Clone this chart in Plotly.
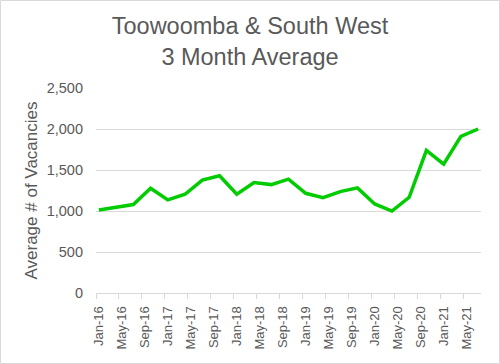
import plotly.graph_objects as go

# Quarterly data points (month index from Jan-16)
quarters = ["Jan-16", "Apr-16", "Jul-16", "Oct-16", "Jan-17", "Apr-17", "Jul-17", "Oct-17",
            "Jan-18", "Apr-18", "Jul-18", "Oct-18", "Jan-19", "Apr-19", "Jul-19", "Oct-19",
            "Jan-20", "Apr-20", "Jul-20", "Oct-20", "Jan-21", "Apr-21", "Jul-21"]
month_index = [0, 3, 6, 9, 12, 15, 18, 21, 24, 27, 30, 33, 36, 39, 42, 45, 48, 51, 54, 57, 60, 63, 66]
vacancies = [1012, 1045, 1078, 1278, 1135, 1204, 1376, 1429, 1204, 1347, 1322, 1388,
             1216, 1163, 1237, 1282, 1086, 1000, 1167, 1739, 1571, 1910, 2000]

tick_months = [0, 4, 8, 12, 16, 20, 24, 28, 32, 36, 40, 44, 48, 52, 56, 60, 64]
tick_labels = ["Jan-16", "May-16", "Sep-16", "Jan-17", "May-17", "Sep-17", "Jan-18", "May-18",
               "Sep-18", "Jan-19", "May-19", "Sep-19", "Jan-20", "May-20", "Sep-20", "Jan-21", "May-21"]

FONT = "Liberation Sans, Arial, sans-serif"
GREY = "#595959"
GRID = "#d9d9d9"

W, H = 500, 364
ml, mr, mt, mb = 96, 19, 88, 71

fig = go.Figure()
fig.add_trace(go.Scatter(
    x=month_index, y=vacancies, mode="lines",
    line=dict(color="#00CC00", width=3.5),
    hoverinfo="skip", showlegend=False,
))

fig.update_layout(
    width=W, height=H,
    margin=dict(l=ml, r=mr, t=mt, b=mb, pad=0, autoexpand=False),
    paper_bgcolor="white", plot_bgcolor="white",
    font=dict(family=FONT, color=GREY),
    title=dict(
        text="Toowoomba & South West<br>3 Month Average",
        font=dict(size=23.5, color=GREY, family=FONT),
        x=0.5, xref="container", xanchor="center",
        y=1 - 34 / H, yref="container", yanchor="middle",
    ),
    xaxis=dict(
        range=[-0.5, 66.5],
        tickmode="array", tickvals=tick_months, ticktext=tick_labels,
        tickangle=-90,
        ticks="outside", ticklen=7, tickcolor="rgba(0,0,0,0)",
        tickfont=dict(size=13, color=GREY, family=FONT),
        showgrid=False, zeroline=False,
        showline=True, linecolor=GRID, linewidth=1,
        minor=dict(ticks="outside", tick0=-0.5, dtick=4, ticklen=5,
                   tickcolor=GRID, tickwidth=1, showgrid=False),
        automargin=False,
        fixedrange=True,
    ),
    yaxis=dict(
        range=[0, 2500], dtick=500, tick0=0,
        tickformat=",",
        tickfont=dict(size=14.5, color=GREY, family=FONT),
        ticklabelstandoff=12,
        showgrid=True, gridcolor=GRID, gridwidth=1,
        zeroline=False, showline=False,
        title=dict(text="Average # of Vacancies", font=dict(size=17, color=GREY, family=FONT),
                   standoff=4),
        automargin=False,
        fixedrange=True,
    ),
)

# chart-area border
pw = W - ml - mr
ph = H - mt - mb
fig.add_shape(type="rect", xref="paper", yref="paper",
              x0=(0.5 - ml) / pw, x1=(W - 0.5 - ml) / pw,
              y0=-(mb - 0.5) / ph, y1=1 + (mt - 0.5) / ph,
              line=dict(color=GRID, width=1), fillcolor="rgba(0,0,0,0)", layer="above")

fig.write_html("out.html", config={"displayModeBar": False},
               post_script="document.body.style.margin='0';document.body.style.padding='0';")
